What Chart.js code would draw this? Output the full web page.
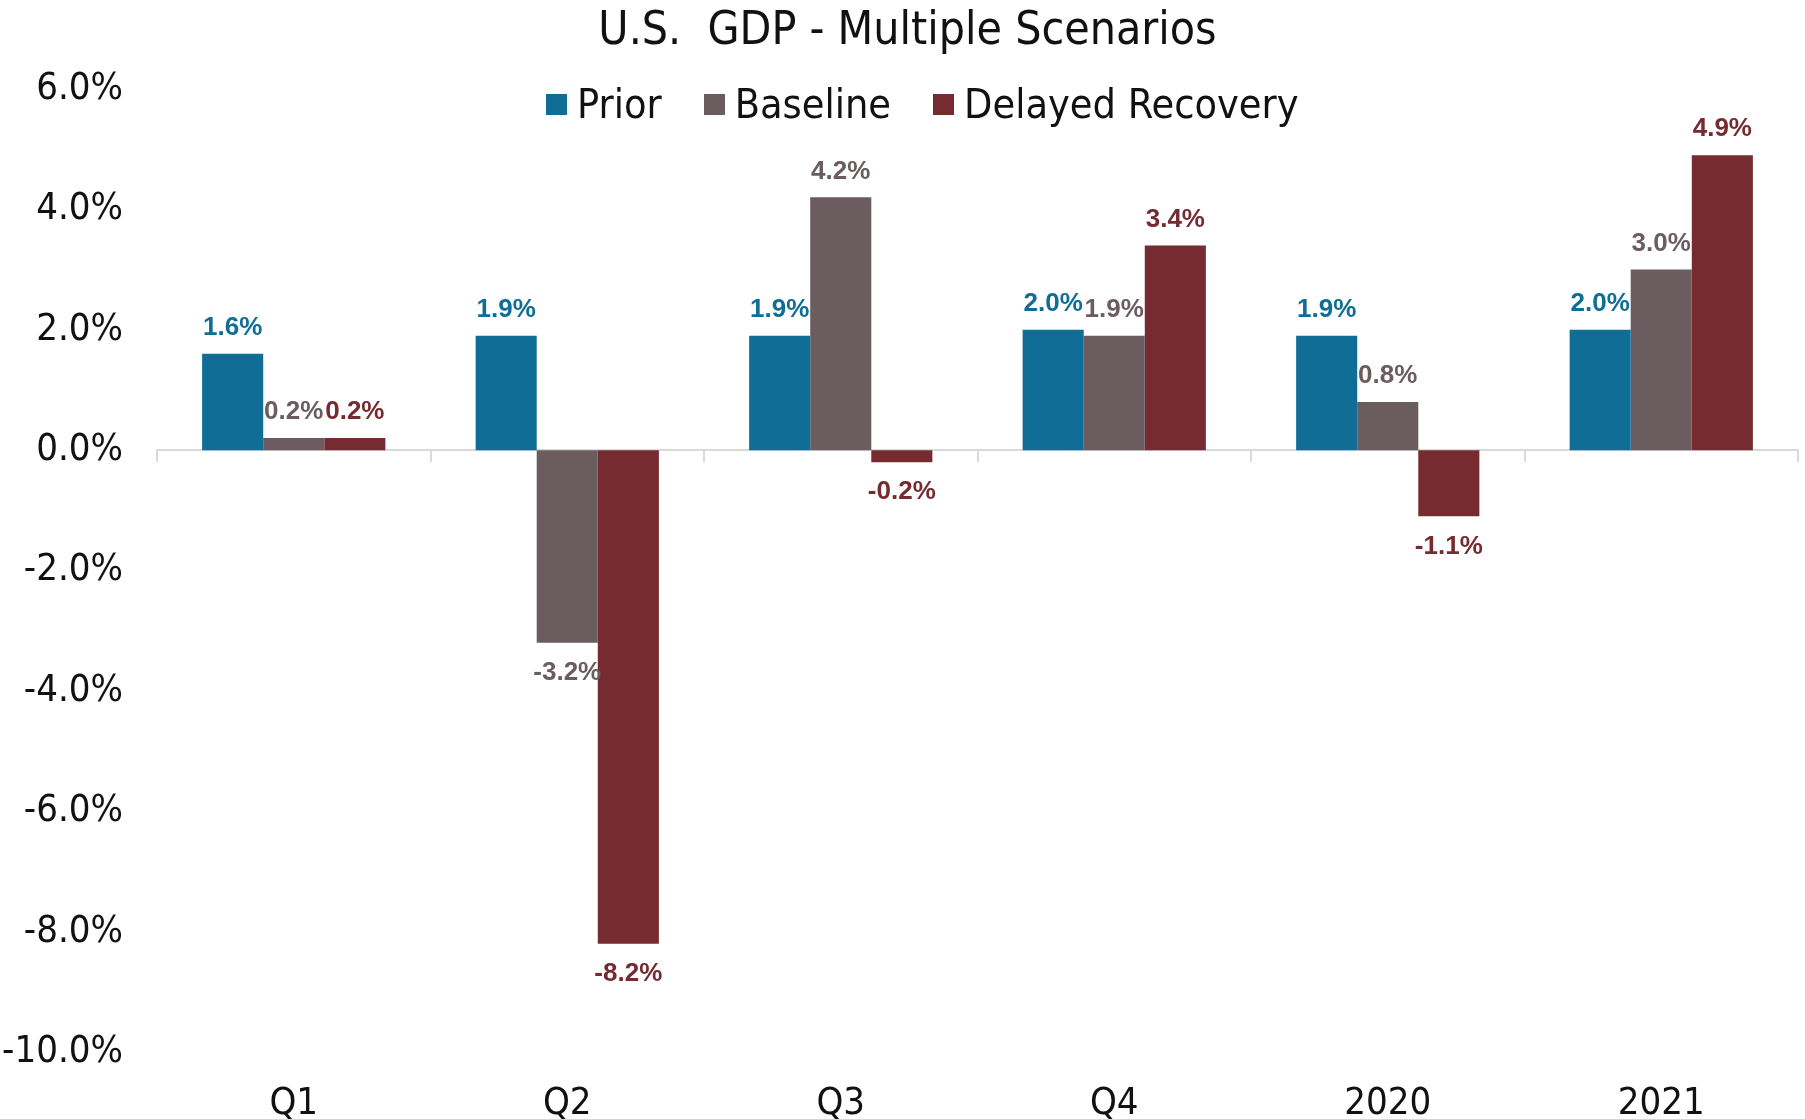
<!DOCTYPE html>
<html>
<head>
<meta charset="utf-8">
<script src="https://cdn.jsdelivr.net/npm/chart.js@4.4.1/dist/chart.umd.min.js"></script>
<style>
  html, body { margin: 0; padding: 0; background: #fff; }
  .wrap { position: relative; width: 1805px; height: 1119px; }
  canvas { position: absolute; left: 0; top: 0; }
  .title {
    position: absolute; left: 0; width: 1815px; top: 0; height: 56px; line-height: 56px;
    text-align: center; font-family: 'Liberation Sans Narrow', 'DejaVu Sans Condensed', sans-serif;
    font-size: 46px; color: #111; white-space: pre;
  }
  .legend {
    position: absolute; left: 546px; top: 78px; height: 52px;
    display: flex; align-items: center;
    font-family: 'Liberation Sans Narrow', 'DejaVu Sans Condensed', sans-serif;
    font-size: 41px; color: #111;
  }
  .legend .item { display: flex; align-items: center; margin-right: 42px; }
  .legend .sw { width: 21px; height: 21px; margin-right: 10px; }
</style>
</head>
<body>
<div class="wrap">
  <canvas id="gdpChart" width="1805" height="1119"></canvas>
  <div class="title">U.S.  GDP - Multiple Scenarios</div>
  <div class="legend" id="legend"></div>
</div>
<script>
// ── data ────────────────────────────────────────────────────────────
const categories = ['Q1', 'Q2', 'Q3', 'Q4', '2020', '2021'];
const seriesNames = ['Prior', 'Baseline', 'Delayed Recovery'];
const prior = [1.6, 1.9, 1.9, 2.0, 1.9, 2.0];
const baseline = [0.2, -3.2, 4.2, 1.9, 0.8, 3.0];
const delayed = [0.2, -8.2, -0.2, 3.4, -1.1, 4.9];
const yTicks = [6, 4, 2, 0, -2, -4, -6, -8, -10];

const colors = ['#0f6d96', '#6b5c5f', '#762b30'];
const axisFont = "'Liberation Sans Narrow', 'DejaVu Sans Condensed', sans-serif";

// legend (html so it can sit over the plot like the original)
document.getElementById('legend').innerHTML = seriesNames.map((n, i) =>
  `<div class="item"><div class="sw" style="background:${colors[i]}"></div>${n}</div>`
).join('');

// value labels at the end of each bar
const barLabels = {
  id: 'barLabels',
  afterDatasetsDraw(chart) {
    const ctx = chart.ctx;
    ctx.save();
    ctx.font = "bold 26px 'Liberation Sans', Arial, sans-serif";
    ctx.textAlign = 'center';
    ctx.textBaseline = 'middle';
    chart.data.datasets.forEach((ds, di) => {
      const meta = chart.getDatasetMeta(di);
      meta.data.forEach((bar, i) => {
        const v = ds.data[i];
        ctx.fillStyle = ds.backgroundColor;
        const y = v >= 0 ? bar.y - 26 : bar.y + 30;
        ctx.fillText(v.toFixed(1) + '%', bar.x, y);
      });
    });
    ctx.restore();
  }
};

new Chart(document.getElementById('gdpChart'), {
  type: 'bar',
  data: {
    labels: categories,
    datasets: [prior, baseline, delayed].map((d, i) => ({
      label: seriesNames[i],
      data: d,
      backgroundColor: colors[i],
      borderWidth: 0,
      categoryPercentage: 0.67,
      barPercentage: 1.0,
    }))
  },
  options: {
    responsive: false,
    animation: false,
    layout: { padding: { top: 89, right: 7, left: 0, bottom: 0 } },
    plugins: { legend: { display: false }, title: { display: false }, tooltip: { enabled: false } },
    scales: {
      x: {
        position: 'bottom',
        grid: { display: false },
        border: { display: false },
        ticks: { color: '#111', font: { family: axisFont, size: 38 }, padding: 21 },
        afterFit: s => { s.height = 67; },
      },
      xZero: {
        type: 'category',
        position: { y: 0 },
        grid: { display: true, drawOnChartArea: false, offset: true, tickLength: 11, color: '#d9d9d9', lineWidth: 2 },
        border: { display: true, color: '#d9d9d9', width: 2 },
        ticks: { display: false },
      },
      y: {
        min: yTicks[yTicks.length - 1],
        max: yTicks[0],
        afterBuildTicks: s => { s.ticks = yTicks.slice().reverse().map(v => ({ value: v })); },
        grid: { display: false, drawTicks: false },
        border: { display: false },
        ticks: {
          color: '#111', font: { family: axisFont, size: 38 }, padding: 34,
          callback: v => v.toFixed(1) + '%',
        },
        afterFit: s => { s.width = 157; },
      }
    }
  },
  plugins: [barLabels]
});
</script>
</body>
</html>
